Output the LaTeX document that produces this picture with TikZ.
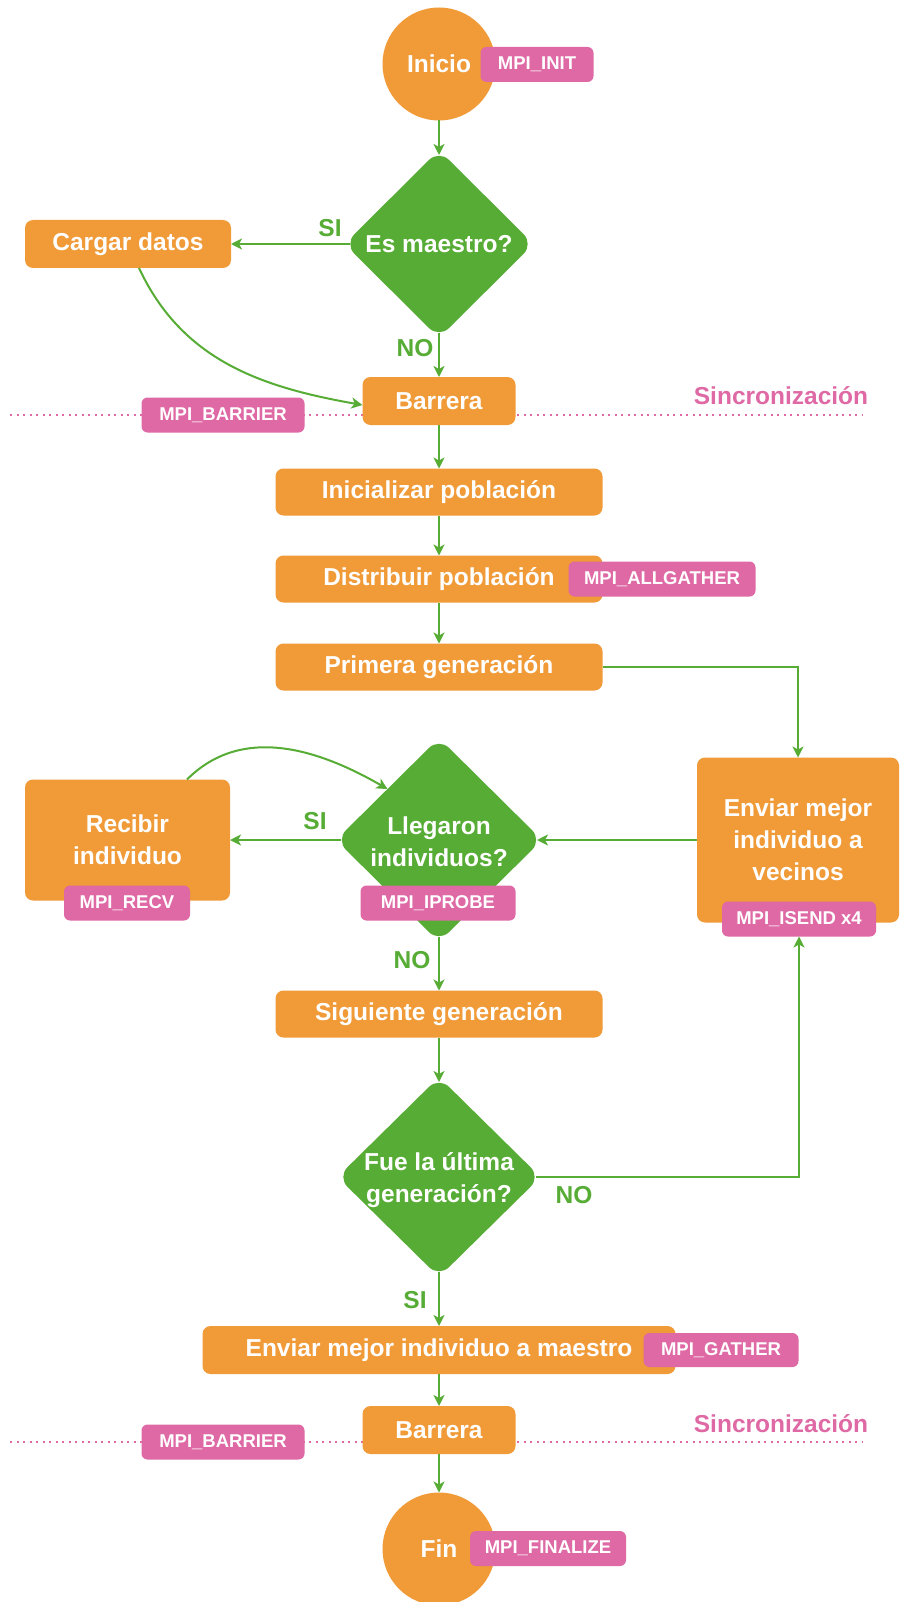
\documentclass[tikz,border=0pt]{standalone}
\usepackage{fontspec}
\setmainfont{Liberation Sans}
\usetikzlibrary{shapes.geometric,arrows.meta}
\definecolor{cOrange}{RGB}{240,154,56}
\definecolor{cGreen}{RGB}{86,172,52}
\definecolor{cPink}{RGB}{222,105,165}
\newcommand{\mainsize}{\bfseries\fontsize{24.5}{32}\selectfont}
\newcommand{\tagsize}{\bfseries\fontsize{18.5}{22}\selectfont}
\tikzset{
  every node/.style={inner sep=0pt, outer sep=0pt},
  proc/.style={rectangle, rounded corners=8pt, fill=cOrange, text=white, font=\mainsize, align=center},
  term/.style={circle, fill=cOrange, text=white, minimum size=113pt, font=\mainsize},
  tag/.style={rectangle, rounded corners=6pt, fill=cPink, text=white, font=\tagsize, minimum height=35pt},
  decision/.style={diamond, rounded corners=14pt, fill=cGreen},
  dtext/.style={text=white, font=\mainsize, align=center},
  flow/.style={draw=cGreen, line width=2pt, -{Stealth[length=11pt,width=11pt,inset=3pt]}},
  fromdec/.style={shorten <=-5pt},
  todec/.style={shorten >=-5pt},
  lbl/.style={text=cGreen, font=\mainsize},
  syncline/.style={draw=cPink, line width=2pt, dash pattern=on 2pt off 4.5pt},
  synctext/.style={text=cPink, font=\mainsize},
}
\begin{document}
\begin{tikzpicture}[x=1pt,y=1pt]
\useasboundingbox (0,0) rectangle (901,-1602);

% synchronisation lines
\draw[syncline] (10,-415) -- (863,-415);
\draw[syncline] (10,-1442) -- (863,-1442);
\node[synctext] (sync1) at (781,-396) {Sincronización};
\node[synctext] (sync2) at (781,-1424) {Sincronización};

% process nodes
\node[term] (start) at (439,-64) {Inicio};
\node[decision, minimum width=189pt, minimum height=188pt] (qMaster) at (439,-244) {};
\node[dtext] (qMasterTxt) at (qMaster) {Es maestro?};
\node[proc, minimum width=206pt, minimum height=48pt] (load) at (128,-244) {Cargar datos};
\node[proc, minimum width=153pt, minimum height=48pt] (bar1) at (439,-401) {Barrera};
\node[proc, minimum width=327pt, minimum height=47pt] (init) at (439,-492) {Inicializar población};
\node[proc, minimum width=327pt, minimum height=47pt] (dist) at (439,-579) {Distribuir población};
\node[proc, minimum width=327pt, minimum height=47pt] (first) at (439,-667) {Primera generación};
\node[proc, minimum width=202pt, minimum height=165pt] (sendN) at (798,-840) {Enviar mejor\\individuo a\\vecinos};
\node[decision, minimum width=206pt, minimum height=204pt] (qArr) at (439,-840) {};
\node[dtext] (qArrTxt) at ([yshift=-2pt]qArr.center) {Llegaron\\individuos?};
\node[proc, minimum width=205pt, minimum height=121pt] (recv) at (127.5,-840) {Recibir\\individuo};
\node[proc, minimum width=327pt, minimum height=47pt] (next) at (439,-1014) {Siguiente generación};
\node[decision, minimum width=203pt, minimum height=200pt] (qLast) at (439,-1177) {};
\node[dtext] (qLastTxt) at ([yshift=-3pt]qLast.center) {Fue la última\\generación?};
\node[proc, minimum width=473pt, minimum height=48pt] (sendM) at (439,-1350) {Enviar mejor individuo a maestro};
\node[proc, minimum width=153pt, minimum height=48pt] (bar2) at (439,-1430) {Barrera};
\node[term] (fin) at (439,-1549) {Fin};

% MPI call tags
\node[tag, minimum width=113pt] (tInit) at (537,-64.5) {MPI\_INIT};
\node[tag, minimum width=163pt] (tBar1) at (223,-415) {MPI\_BARRIER};
\node[tag, minimum width=187pt] (tAll) at (662,-579) {MPI\_ALLGATHER};
\node[tag, minimum width=154pt] (tIsend) at (799,-919) {MPI\_ISEND x4};
\node[tag, minimum width=155pt] (tIprobe) at (438,-903) {MPI\_IPROBE};
\node[tag, minimum width=126pt] (tRecv) at (127,-903) {MPI\_RECV};
\node[tag, minimum width=155pt, minimum height=34pt] (tGather) at (721,-1350) {MPI\_GATHER};
\node[tag, minimum width=163pt] (tBar2) at (223,-1442) {MPI\_BARRIER};
\node[tag, minimum width=156pt] (tFin) at (548,-1548.5) {MPI\_FINALIZE};

% connectors
\draw[flow, todec] (start) -- (qMaster.north);
\draw[flow, fromdec] (qMaster.west) -- (load.east);
\draw[flow, fromdec] (qMaster.south) -- (bar1.north);
\draw[flow] ([xshift=11pt]load.south) to[out=-65,in=170] ([yshift=-4pt]bar1.west);
\draw[flow] (bar1.south) -- (init.north);
\draw[flow] (init.south) -- (dist.north);
\draw[flow] (dist.south) -- (first.north);
\draw[flow] (first.east) -| (sendN.north);
\draw[flow, todec] (sendN.west) -- (qArr.east);
\draw[flow, fromdec] (qArr.west) -- (recv.east);
\draw[flow] ([xshift=59.5pt]recv.north) to[out=45,in=150] (qArr.north west);
\draw[flow, fromdec] (qArr.south) -- (next.north);
\draw[flow, todec] (next.south) -- (qLast.north);
\draw[flow, fromdec] (qLast.south) -- (sendM.north);
\draw[flow, fromdec] (qLast.east) -| (tIsend.south);
\draw[flow] (sendM.south) -- (bar2.north);
\draw[flow] (bar2.south) -- (fin);

% branch labels
\node[lbl] (siMaster) at (330,-228) {SI};
\node[lbl] (noMaster) at (415,-348) {NO};
\node[lbl] (siArr) at (315,-821) {SI};
\node[lbl] (noArr) at (412,-960) {NO};
\node[lbl] (siLast) at (415,-1300) {SI};
\node[lbl] (noLast) at (574,-1195) {NO};
\end{tikzpicture}
\end{document}
